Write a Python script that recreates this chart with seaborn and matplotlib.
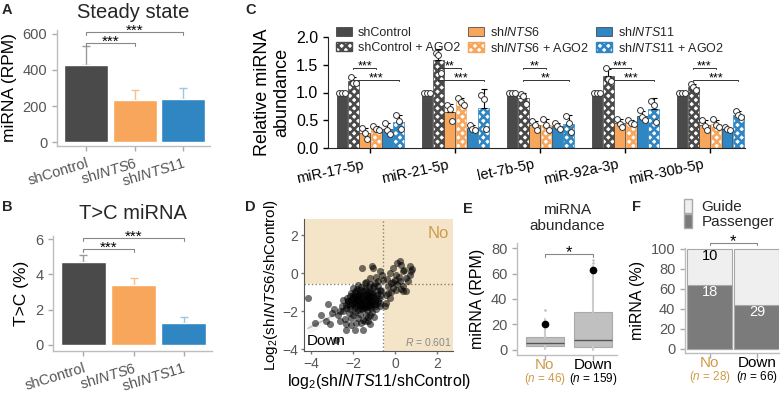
import matplotlib
matplotlib.use('Agg')
import matplotlib.patches as mpatches
import matplotlib.pyplot as plt
import matplotlib.transforms as mtransforms
import numpy as np
import pandas as pd
import seaborn as sns

sns.set_style('white')
plt.rcParams['font.family'] = ['Liberation Sans', 'DejaVu Sans']
plt.rcParams['mathtext.fontset'] = 'custom'
plt.rcParams['mathtext.rm'] = 'Liberation Sans'
plt.rcParams['mathtext.it'] = 'Liberation Sans:italic'
plt.rcParams['mathtext.bf'] = 'Liberation Sans:bold'
plt.rcParams['hatch.linewidth'] = 1.9

# ---- data: panels A / B ----
groups = ['shControl', 'shINTS6', 'shINTS11']
group_labels = ['shControl', r'sh$\mathit{INTS6}$', r'sh$\mathit{INTS11}$']
steady_rpm = [430, 235, 240]
steady_err = [105, 55, 58]
tc_pct = [4.7, 3.4, 1.25]
tc_err = [0.42, 0.42, 0.35]

# ---- data: panel C (three replicates per bar) ----
mirnas = ['miR-17-5p', 'miR-21-5p', 'let-7b-5p', 'miR-92a-3p', 'miR-30b-5p']
conds = ['shControl', 'shControl + AGO2', 'shINTS6', 'shINTS6 + AGO2',
         'shINTS11', 'shINTS11 + AGO2']
cond_labels = ['shControl', 'shControl + AGO2', r'sh$\mathit{INTS6}$',
               r'sh$\mathit{INTS6}$ + AGO2', r'sh$\mathit{INTS11}$',
               r'sh$\mathit{INTS11}$ + AGO2']
rep_ctrl = [[1.0, 1.0, 1.0], [1.0, 1.0, 1.0], [1.0, 1.0, 1.0], [1.0, 1.0, 1.0], [1.0, 1.0, 1.0]]
rep_ctrl_ago2 = [[1.28, 1.18, 1.17], [1.72, 1.68, 1.35], [0.98, 0.93, 0.80],
                 [1.45, 1.25, 1.20], [1.15, 1.10, 1.05]]
rep_i6 = [[0.36, 0.27, 0.16], [0.77, 0.70, 0.48], [0.48, 0.42, 0.32],
          [0.52, 0.44, 0.38], [0.50, 0.40, 0.32]]
rep_i6_ago2 = [[0.40, 0.34, 0.32], [0.90, 0.83, 0.78], [0.52, 0.42, 0.32],
               [0.50, 0.45, 0.43], [0.52, 0.42, 0.38]]
rep_i11 = [[0.45, 0.32, 0.25], [0.42, 0.35, 0.32], [0.45, 0.40, 0.35],
           [0.68, 0.55, 0.50], [0.37, 0.35, 0.33]]
rep_i11_ago2 = [[0.60, 0.48, 0.34], [0.95, 0.88, 0.34], [0.58, 0.45, 0.28],
                [0.85, 0.78, 0.47], [0.66, 0.60, 0.55]]
stars_ago2_i6 = ['***', '**', '**', '***', '***']
stars_ago2_i11 = ['***', '***', '**', '***', '***']

# ---- data: panel D (log2 fold changes) ----
fc_ints11 = [
    -1.08, -1.56, -1.05, -0.73, 0.22, 0.30, 0.70, 0.78, 0.38, -0.10, 0.06, -0.25,
    -0.02, 0.54, 0.62, 0.22, -0.57, -0.81, -1.21, -0.97, -0.33, -0.10, 0.38, 0.06,
    0.54, 0.38, -0.33, -0.25, -0.41, -0.49, -0.17, 0.80, 0.70, 0.10, -0.40, -0.60,
    -0.90, -1.40, -1.20, 0.20, 0.45, -0.20, -0.45, 0.10, -0.10, 0.30,
    -4.14, -3.19, -3.27, -3.11, -2.48, -2.35, -2.32, -1.92, -2.79, -1.76, -1.52, -1.29,
    -1.21, -2.00, -2.08, -2.32, -2.48, -2.24, -2.00, -1.84, -1.68, -1.37, -1.21, -1.05,
    -0.89, -0.81, -0.97, -1.21, -1.44, -1.68, -1.92, -2.16, -1.76, -1.52, -1.29, -1.37,
    -1.60, -1.84, -2.08, -2.16, -0.73, -0.65, -0.73, -2.00, -1.76, -1.44, -1.92, -1.68,
    -1.13, -1.05, -1.90, -1.80, -1.70, -1.60, -1.50, -1.40, -1.30, -1.20, -1.10, -1.00,
    -1.95, -1.85, -1.75, -1.55, -1.45, -1.35, -1.25, -1.15, -2.05, -2.15, -2.25, -2.35,
    -1.65, -1.50, -1.35, -1.20, -1.05, -0.95, -0.85, -0.75, -0.70, -1.90, -2.10, -2.30,
    -2.50, -2.60, -2.70, -2.20, -1.90, -1.65, -1.40, -1.10, -0.90, -1.60, -1.85, -2.10,
    -1.30, -1.00, -1.78, -1.58, -1.38, -1.18, -1.98, -1.68, -1.48, -1.28, -1.08, -0.88,
    -1.88, -1.62, -1.42, -1.22, -1.72, -2.02, -2.22, -1.52, -1.32, -1.12, -0.92, -1.82,
    -1.62, -1.42, -1.22, -1.02, -0.82, -0.68, -2.40, -2.60, -3.00, -2.90, -3.50, -3.80,
    -1.45, -1.20, -1.50,
]
fc_ints6 = [
    0.37, 0.28, 0.28, 0.14, 0.67, 0.46, 0.37, 0.14, 0.10, 0.28, -0.07, 0.02,
    -0.34, -0.25, -0.42, -0.42, -0.34, -0.42, -0.25, -0.51, -0.69, -0.78, -0.69, -0.87,
    -0.95, -0.95, -1.04, -1.31, -1.57, -1.75, -0.51, 0.22, -0.10, 0.55, -0.30, -0.10,
    -0.20, -0.45, -0.55, -0.20, 0.20, -1.00, -1.15, -0.55, -0.45, -0.80,
    -1.31, -1.62, -2.54, -2.68, -2.01, -2.68, -2.98, -2.98, -3.51, -2.37, -2.45, -2.54,
    -2.19, -2.19, -2.37, -1.66, -1.40, -1.48, -1.13, -0.95, -0.87, -0.87, -0.95, -1.13,
    -1.31, -1.48, -1.75, -1.75, -1.84, -1.84, -1.84, -1.75, -1.48, -1.40, -1.40, -1.13,
    -1.13, -1.31, -1.40, -1.22, -1.75, -1.13, -0.87, -0.78, -0.60, -0.51, -1.57, -1.66,
    -1.48, -0.78, -1.20, -1.40, -1.30, -1.50, -1.60, -1.30, -1.50, -1.20, -1.40, -1.60,
    -1.65, -1.75, -1.95, -1.90, -1.70, -1.95, -1.65, -1.85, -1.55, -1.90, -1.60, -1.85,
    -1.05, -0.95, -1.05, -1.05, -1.25, -1.45, -1.15, -1.30, -1.55, -1.00, -1.05, -1.30,
    -1.70, -2.00, -2.20, -2.10, -2.05, -2.15, -2.20, -2.05, -1.90, -2.60, -2.60, -2.75,
    -2.30, -2.30, -1.22, -1.28, -1.62, -1.58, -1.38, -1.58, -1.12, -1.22, -1.02, -0.95,
    -1.48, -1.72, -1.48, -1.38, -1.12, -1.25, -1.45, -1.82, -1.78, -1.68, -1.62, -0.82,
    -0.72, -0.75, -0.70, -0.65, -0.68, -0.95, -2.40, -2.50, -2.10, -1.90, -2.20, -2.60,
    -2.50, -2.70, -3.00,
]
fc_cut = -0.585

# ---- data: panel E (box summary, RPM) ----
box_groups = ['No', 'Down']
box_n = [46, 159]
box_q1 = [3.1, 2.6]
box_med = [5.5, 7.8]
box_q3 = [9.9, 30.0]
box_lo = [0.4, 0.3]
box_hi = [24.0, 66.0]
box_mean = [20.6, 63.0]
box_fliers = [[31.0], [68.0, 71.0]]

# ---- data: panel F (counts) ----
f_groups = ['No', 'Down']
f_n = [28, 66]
f_passenger = [18, 29]
f_guide = [10, 37]

DARK = '#4a4a4a'
ORANGE = '#f8a65b'
BLUE = '#2f86c3'
bar_colors = [DARK, ORANGE, BLUE]
err_colors = ['#9a9a9a', '#f6c08e', '#9cc6e4']
cond_colors = dict(zip(conds, [DARK, DARK, ORANGE, ORANGE, BLUE, BLUE]))
TAN = '#f4e5c9'
NO_COL = '#cf9b4a'
GUIDE = '#efefef'
PASS = '#7b7b7b'

fig = plt.figure(figsize=(7.8, 3.94), dpi=100)


def px_axes(l, t, r, b):
    return fig.add_axes([l / 780, 1 - b / 394, (r - l) / 780, (b - t) / 394])


def light_axes(ax):
    sns.despine(ax=ax)
    for s in ['left', 'bottom']:
        ax.spines[s].set_color('#bdbdbd')
        ax.spines[s].set_linewidth(1.0)
    ax.tick_params(left=True, bottom=True, colors='#aaaaaa', labelcolor='#555555',
                   length=3.5, width=1, labelsize=10.5)


def bracket(ax, x1, x2, y, h, label, fs, color='#888888', lw=0.8, off=-2):
    ax.plot([x1, x1, x2, x2], [y - h, y, y, y - h], color=color, lw=lw, clip_on=False)
    ax.annotate(label, xy=((x1 + x2) / 2, y), xytext=(0, off), textcoords='offset points',
                ha='center', va='baseline', fontsize=fs, color='black',
                annotation_clip=False)


# ---- A ----
axA = px_axes(57, 30, 210, 146)
sns.barplot(x=groups, y=steady_rpm, hue=groups, palette=bar_colors, legend=False,
            width=0.9, saturation=1, ax=axA)
for i in range(3):
    axA.errorbar(i, steady_rpm[i], yerr=[[0], [steady_err[i]]], color=err_colors[i],
                 lw=1, capsize=3, capthick=1, zorder=0.5)
axA.set_xlim(-0.6, 2.55)
axA.set_ylim(-22, 622)
axA.set_yticks([0, 200, 400, 600])
light_axes(axA)
axA.set_xticks(range(3), group_labels, rotation=17, ha='right', rotation_mode='anchor')
axA.set_ylabel('miRNA (RPM)', fontsize=12.5, color='black')
axA.set_title('Steady state', fontsize=14.5, pad=9)
bracket(axA, 0, 1, 550, 16, '***', 11)
bracket(axA, 0, 2, 612, 16, '***', 11)

# ---- B ----
axB = px_axes(53, 236, 212, 351)
sns.barplot(x=groups, y=tc_pct, hue=groups, palette=bar_colors, legend=False,
            width=0.9, saturation=1, ax=axB)
for i in range(3):
    axB.errorbar(i, tc_pct[i], yerr=[[0], [tc_err[i]]], color=err_colors[i],
                 lw=1, capsize=3, capthick=1, zorder=0.5)
axB.set_xlim(-0.61, 2.57)
axB.set_ylim(-0.34, 6.17)
axB.set_yticks([0, 2, 4, 6])
light_axes(axB)
axB.set_xticks(range(3), group_labels, rotation=17, ha='right', rotation_mode='anchor')
axB.set_ylabel('T>C (%)', fontsize=12.5, color='black')
axB.set_title('T>C miRNA', fontsize=14.5, pad=12)
bracket(axB, 0, 1, 5.43, 0.15, '***', 11)
bracket(axB, 0, 2, 6.05, 0.15, '***', 11)

# ---- C ----
axC = px_axes(328, 37, 745, 148)
rep_lists = [rep_ctrl, rep_ctrl_ago2, rep_i6, rep_i6_ago2, rep_i11, rep_i11_ago2]
rows = []
for cond, reps in zip(conds, rep_lists):
    for m, vals in zip(mirnas, reps):
        for v in vals:
            rows.append((m, cond, v))
df_c = pd.DataFrame(rows, columns=['mirna', 'cond', 'value'])
sns.barplot(data=df_c, x='mirna', y='value', hue='cond', order=mirnas, hue_order=conds,
            palette=cond_colors, errorbar=None, width=0.8, gap=0.06, saturation=1,
            edgecolor='#333333', linewidth=0.5, legend=False, ax=axC)
rep_map = dict(zip(conds, rep_lists))
centers = {}
for cond, cont in zip(conds, axC.containers):
    for patch in cont:
        w = patch.get_width()
        cx = patch.get_x() + w / 2
        j = int(round(cx))
        centers[(cond, j)] = cx
        vals = np.array(rep_map[cond][j])
        if 'AGO2' in cond:
            patch.set_facecolor('white')
            patch.set_edgecolor(cond_colors[cond])
            patch.set_hatch('xxxx')
        sd = vals.std(ddof=1)
        if sd > 0:
            axC.errorbar(cx, patch.get_height(), yerr=[[0], [sd]], color='black',
                         lw=0.8, capsize=2.2, capthick=0.8, zorder=3)
        axC.scatter(cx + np.array([-0.25, 0.0, 0.25]) * w, vals, s=18, facecolor='white',
                    edgecolor='#333333', linewidth=0.7, zorder=4)
for j in range(5):
    x0 = centers[('shControl + AGO2', j)]
    bracket(axC, x0, centers[('shINTS6 + AGO2', j)], 1.45, 0.03, stars_ago2_i6[j], 9,
            color='#333333', lw=0.7, off=-1.5)
    bracket(axC, x0, centers[('shINTS11 + AGO2', j)], 1.23, 0.03, stars_ago2_i11[j], 9,
            color='#333333', lw=0.7, off=-1.5)
axC.set_xlim(-0.5, 4.41)
axC.set_ylim(0, 2.0)
axC.set_yticks([0, 0.5, 1.0, 1.5, 2.0], ['0.0', '0.5', '1.0', '1.5', '2.0'])
sns.despine(ax=axC)
axC.tick_params(left=True, bottom=True, length=3.5, width=1, colors='black', labelsize=11.5)
axC.tick_params(axis='x', labelsize=10.5)
axC.set_xticks(range(5), mirnas, rotation=12, ha='right', rotation_mode='anchor')
shift = mtransforms.ScaledTranslation(-0.08, 0, fig.dpi_scale_trans)
for lbl in axC.get_xticklabels():
    lbl.set_transform(lbl.get_transform() + shift)
axC.set_xlabel('')
axC.set_ylabel('Relative miRNA\nabundance', fontsize=13, color='black', labelpad=4)
handles = []
for cond, lab in zip(conds, cond_labels):
    if 'AGO2' in cond:
        handles.append(mpatches.Patch(facecolor='white', edgecolor=cond_colors[cond],
                                      hatch='xxxx', label=lab))
    else:
        handles.append(mpatches.Patch(facecolor=cond_colors[cond], edgecolor='#333333',
                                      linewidth=0.5, label=lab))
fig.legend(handles=handles, loc='upper left', bbox_to_anchor=(336 / 780, 1 - 26 / 394),
           ncol=3, frameon=False, fontsize=9, handlelength=1.3, handleheight=0.8,
           handletextpad=0.45, columnspacing=0.6, labelspacing=0.2, borderpad=0,
           borderaxespad=0)

# ---- D ----
axD = px_axes(304, 219, 453, 351)
axD.set_facecolor(TAN)
axD.fill_between([-6, fc_cut], -6, fc_cut, color='white', zorder=0)
axD.axvline(fc_cut, ls=':', color='#8a8070', lw=1, zorder=1)
axD.axhline(fc_cut, ls=':', color='#8a8070', lw=1, zorder=1)
sns.regplot(x=fc_ints11, y=fc_ints6, scatter=False, ci=95, seed=1, color='#c8c8c8',
            line_kws=dict(lw=1.2, color='#c0c0c0'), ax=axD)
sns.scatterplot(x=fc_ints11, y=fc_ints6, color='black', alpha=0.55, s=26, linewidth=0,
                ax=axD, zorder=3)
axD.set_xlim(-4.33, 2.76)
axD.set_ylim(-4.1, 2.87)
axD.set_xticks([-4, -2, 0, 2])
axD.set_yticks([-4, -2, 0, 2])
sns.despine(ax=axD)
for s in ['left', 'bottom']:
    axD.spines[s].set_color('#555555')
axD.tick_params(left=True, bottom=True, colors='#777777', labelcolor='#555555',
                length=2.5, width=1, labelsize=10, pad=1.5)
axD.set_xlabel(r'log$_2$(sh$\mathit{INTS11}$/shControl)', fontsize=11.5, color='black',
               labelpad=1)
axD.set_ylabel(r'Log$_2$(sh$\mathit{INTS6}$/shControl)', fontsize=11, color='black')
axD.yaxis.set_label_coords(-0.16, 0.5)
axD.text(0.97, 0.95, 'No', transform=axD.transAxes, ha='right', va='top', fontsize=12,
         color=NO_COL)
axD.text(0.02, 0.02, 'Down', transform=axD.transAxes, ha='left', va='bottom', fontsize=11,
         color='black')
axD.text(0.99, 0.02, r'$\mathit{R}$ = 0.601', transform=axD.transAxes, ha='right',
         va='bottom', fontsize=7.5, color='#888888')


def group_xlabels(ax, names, ns, colors):
    for i, (nm, n, c) in enumerate(zip(names, ns, colors)):
        ax.annotate(nm, xy=(i, 0), xycoords=('data', 'axes fraction'), xytext=(0, -7),
                    textcoords='offset points', ha='center', va='center', fontsize=11,
                    color=c, annotation_clip=False)
        ax.annotate(rf'($\mathit{{n}}$ = {n})', xy=(i, 0), xycoords=('data', 'axes fraction'),
                    xytext=(0, -17), textcoords='offset points', ha='center', va='center',
                    fontsize=8.5, color=c, annotation_clip=False)


# ---- E ----
axE = px_axes(517, 243, 617, 355)
stats = []
for i in range(2):
    stats.append(dict(med=box_med[i], q1=box_q1[i], q3=box_q3[i], whislo=box_lo[i],
                      whishi=box_hi[i], mean=box_mean[i], fliers=box_fliers[i],
                      label=box_groups[i]))
axE.bxp(stats, positions=[0, 1], widths=0.78, patch_artist=True, showmeans=True,
        showcaps=False,
        boxprops=dict(facecolor='#c0c0c0', edgecolor='#aaaaaa', lw=0.8),
        whiskerprops=dict(color='#cccccc', lw=1.5),
        medianprops=dict(color='#555555', lw=1.0),
        meanprops=dict(marker='o', markerfacecolor='black', markeredgecolor='black',
                       markersize=4.5),
        flierprops=dict(marker='o', markersize=1.8, markerfacecolor='#bbbbbb',
                        markeredgecolor='none'))
axE.set_xlim(-0.58, 1.5)
axE.set_ylim(-4, 84)
axE.set_yticks([0, 20, 40, 60, 80])
light_axes(axE)
axE.set_xticks([0, 1], ['', ''])
group_xlabels(axE, box_groups, box_n, [NO_COL, 'black'])
axE.set_ylabel('miRNA (RPM)', fontsize=11.5, color='black')
axE.set_title('miRNA\nabundance', fontsize=11, pad=9)
bracket(axE, 0, 1, 75.3, 2.5, '*', 12, color='#888888')

# ---- F ----
axF = px_axes(685, 248, 779, 353)
pct_pass = [p / n * 100 for p, n in zip(f_passenger, f_n)]
pct_total = [(p + g) / n * 100 for p, g, n in zip(f_passenger, f_guide, f_n)]
sns.barplot(x=f_groups, y=pct_total, color=GUIDE, width=0.96, edgecolor='#a8a8a8',
            linewidth=0.8, saturation=1, ax=axF)
sns.barplot(x=f_groups, y=pct_pass, color=PASS, width=0.96, edgecolor='#a8a8a8',
            linewidth=0.8, saturation=1, ax=axF)
axF.text(0, pct_total[0] - 7, str(f_guide[0]), ha='center', va='center', fontsize=10.5,
         color='black')
for i in range(2):
    axF.text(i, pct_pass[i] - 7, str(f_passenger[i]), ha='center', va='center',
             fontsize=10.5, color='white')
axF.set_xlim(-0.53, 1.47)
axF.set_ylim(-4, 101)
axF.set_yticks([0, 20, 40, 60, 80, 100])
light_axes(axF)
axF.set_xticks([0, 1], ['', ''])
group_xlabels(axF, f_groups, f_n, [NO_COL, 'black'])
axF.set_ylabel('miRNA (%)', fontsize=11.5, color='black')
bracket(axF, 0, 1, 106, 2.5, '*', 12, color='#888888')
fig.legend(handles=[mpatches.Patch(facecolor=GUIDE, edgecolor='#aaaaaa'),
                    mpatches.Patch(facecolor=PASS, edgecolor='#aaaaaa')],
           labels=['Guide', 'Passenger'], loc='upper left',
           bbox_to_anchor=(684 / 780, 1 - 199 / 394), frameon=False, fontsize=11,
           handlelength=0.55, handleheight=1.0, handletextpad=0.6, labelspacing=0.0,
           borderpad=0, borderaxespad=0)

# panel letters
for letter, (x, y) in zip('ABCDEF', [(2, 3), (2, 200), (245, 3), (245, 200),
                                      (463, 202), (632, 200)]):
    fig.text(x / 780, 1 - y / 394, letter, fontsize=10.5, fontweight='bold', va='top')

fig.savefig('out.png', dpi=100, facecolor='white')
